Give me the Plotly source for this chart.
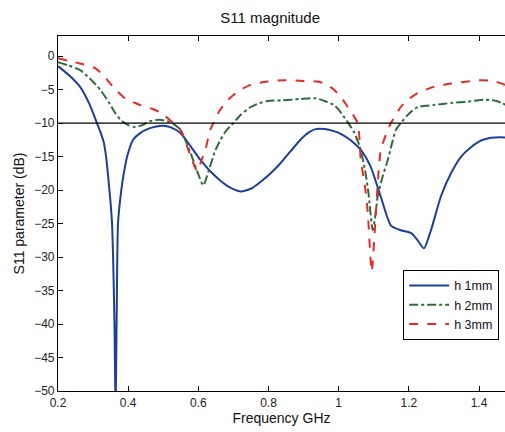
import plotly.graph_objects as go

# Frequency sweep (GHz) and S11 magnitude (dB) for three substrate heights
freq_h1 = [0.200, 0.230, 0.263, 0.290, 0.311, 0.320, 0.330, 0.337, 0.343, 0.350, 0.354, 0.357,
           0.361, 0.364, 0.367, 0.369, 0.371, 0.376, 0.383, 0.390, 0.397, 0.414, 0.434, 0.460,
           0.480, 0.500, 0.520, 0.549, 0.577, 0.606, 0.634, 0.663, 0.690, 0.720, 0.750, 0.777,
           0.806, 0.834, 0.863, 0.891, 0.915, 0.934, 0.960, 0.986, 1.006, 1.035, 1.063, 1.091,
           1.120, 1.149, 1.177, 1.206, 1.225, 1.243, 1.263, 1.291, 1.320, 1.349, 1.377, 1.406,
           1.434, 1.460, 1.480]
s11_h1 = [-1.5, -2.8, -4.6, -7.2, -10.0, -11.2, -12.8, -15.0, -18.0, -22.0, -25.0, -30.0,
          -40.0, -53.0, -40.0, -30.0, -25.0, -22.0, -19.0, -16.8, -15.0, -12.5, -11.5, -10.8,
          -10.5, -10.4, -10.6, -11.5, -13.4, -15.5, -17.2, -18.6, -19.6, -20.2, -19.8, -18.8,
          -17.5, -16.0, -14.2, -12.5, -11.4, -10.9, -10.9, -11.2, -11.6, -12.6, -14.0, -16.5,
          -21.0, -25.3, -26.0, -26.4, -27.5, -28.7, -26.0, -21.0, -17.5, -15.0, -13.6, -12.6,
          -12.2, -12.1, -12.2]

freq_h2 = [0.200, 0.230, 0.263, 0.290, 0.320, 0.345, 0.363, 0.380, 0.400, 0.420, 0.440, 0.463,
           0.490, 0.515, 0.534, 0.549, 0.565, 0.580, 0.597, 0.614, 0.630, 0.649, 0.663, 0.677,
           0.690, 0.700, 0.720, 0.749, 0.775, 0.797, 0.840, 0.891, 0.934, 0.960, 0.986, 1.000,
           1.014, 1.030, 1.043, 1.060, 1.075, 1.085, 1.097, 1.104, 1.111, 1.125, 1.140, 1.152,
           1.163, 1.177, 1.200, 1.226, 1.271, 1.320, 1.369, 1.414, 1.450, 1.480]
s11_h2 = [-0.9, -1.4, -2.1, -3.3, -5.0, -6.9, -8.5, -9.6, -10.3, -10.6, -10.3, -9.7,
          -9.5, -9.8, -10.3, -11.0, -12.8, -14.8, -17.2, -19.3, -17.0, -14.0, -12.5, -11.3,
          -10.5, -10.0, -8.8, -7.6, -7.0, -6.7, -6.6, -6.4, -6.3, -6.7, -7.3, -8.0,
          -9.0, -10.2, -11.3, -13.5, -17.0, -20.5, -26.0, -24.0, -21.0, -18.0, -15.5, -13.0,
          -11.0, -10.0, -8.6, -7.6, -7.3, -7.0, -6.8, -6.5, -6.7, -7.4]

freq_h3 = [0.200, 0.230, 0.263, 0.306, 0.330, 0.349, 0.370, 0.391, 0.434, 0.470, 0.491, 0.520,
           0.549, 0.577, 0.597, 0.608, 0.620, 0.634, 0.643, 0.660, 0.683, 0.715, 0.749, 0.797,
           0.843, 0.900, 0.940, 0.965, 0.986, 1.006, 1.026, 1.054, 1.063, 1.075, 1.083, 1.094,
           1.106, 1.112, 1.120, 1.140, 1.149, 1.177, 1.200, 1.226, 1.271, 1.320, 1.369, 1.406,
           1.440, 1.480]
s11_h3 = [-0.3, -0.7, -1.1, -1.8, -2.9, -4.1, -5.3, -6.3, -7.3, -7.9, -8.4, -9.6,
          -11.0, -14.8, -17.2, -15.7, -14.0, -11.0, -10.0, -8.2, -6.6, -5.2, -4.3, -3.8,
          -3.6, -3.7, -3.8, -4.2, -5.0, -6.1, -7.6, -10.0, -15.5, -19.5, -23.4, -32.2,
          -23.4, -18.5, -14.0, -11.0, -10.0, -7.6, -6.4, -5.5, -4.6, -4.1, -3.8, -3.6,
          -3.7, -4.4]

series = [
    ("h 1mm", freq_h1, s11_h1, "#1c3f9c", "solid"),
    ("h 2mm", freq_h2, s11_h2, "#2f6a3c", "dashdot"),
    ("h 3mm", freq_h3, s11_h3, "#e82a24", "dash"),
]

x_ticks = [0.2, 0.4, 0.6, 0.8, 1.0, 1.2, 1.4]
x_tick_text = ["0.2", "0.4", "0.6", "0.8", "1", "1.2", "1.4"]
y_ticks = [0, -5, -10, -15, -20, -25, -30, -35, -40, -45, -50]
THRESHOLD_DB = -10

fig = go.Figure()
for name, fx, fy, color, dash in series:
    fig.add_trace(go.Scatter(
        x=fx, y=fy, mode="lines", name=name,
        line=dict(color=color, width=2, dash=dash, shape="spline", smoothing=0.6),
    ))

fig.add_hline(y=THRESHOLD_DB, line=dict(color="black", width=1.2))

font_family = "Liberation Sans, Arial, sans-serif"
fig.update_layout(
    width=505, height=432,
    margin=dict(l=58, r=0, t=36, b=41),
    paper_bgcolor="white", plot_bgcolor="white",
    font=dict(family=font_family, color="#222222", size=12),
    title=dict(text="S11 magnitude", x=0.535, xanchor="center", y=0.958, yanchor="middle",
               font=dict(size=15, color="#111111")),
    showlegend=True,
    legend=dict(x=0.987, xanchor="right", y=0.341, yanchor="top",
                bgcolor="white", bordercolor="black", borderwidth=1,
                font=dict(size=12.5, color="#111111"),
                tracegroupgap=0, itemwidth=40),
)
fig.update_xaxes(
    range=[0.2, 1.474], tickvals=x_ticks, ticktext=x_tick_text,
    ticks="inside", ticklen=5, tickcolor="black",
    showline=True, linecolor="black", linewidth=1.2, mirror="ticks",
    showgrid=False, zeroline=False,
    title=dict(text="Frequency GHz", standoff=4, font=dict(size=14, color="#111111")),
    tickfont=dict(size=12),
)
fig.update_yaxes(
    range=[-50, 3], tickvals=y_ticks,
    ticks="inside", ticklen=5, tickcolor="black",
    showline=True, linecolor="black", linewidth=1.2,
    showgrid=False, zeroline=False,
    title=dict(text="S11 parameter (dB)", standoff=6, font=dict(size=14, color="#111111")),
    tickfont=dict(size=12),
)

fig.write_html("out.html")
